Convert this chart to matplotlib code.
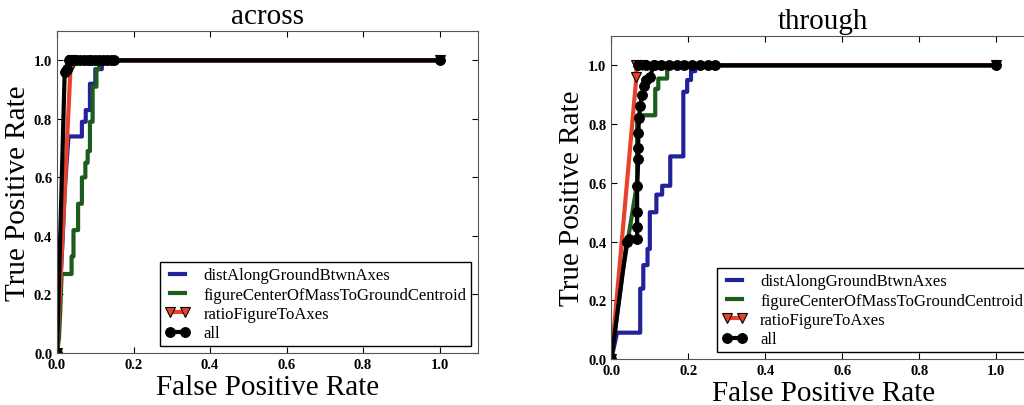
import matplotlib
matplotlib.use("Agg")
import matplotlib.pyplot as plt

plt.rcParams['font.family'] = ['Liberation Serif', 'DejaVu Serif']

titles = ['across', 'through']
labels = ['distAlongGroundBtwnAxes', 'figureCenterOfMassToGroundCentroid',
          'ratioFigureToAxes', 'all']

# across
across_dist_fpr = [0, 0.005, 0.01, 0.015, 0.02, 0.025, 0.03, 0.065, 0.065, 0.075, 0.075,
                   0.086, 0.086, 0.1, 0.1, 0.117, 0.117, 1.0]
across_dist_tpr = [0, 0.1, 0.27, 0.4, 0.55, 0.65, 0.74, 0.74, 0.79, 0.79, 0.83,
                   0.83, 0.92, 0.92, 0.97, 0.97, 1.0, 1.0]
across_fig_fpr = [0, 0.005, 0.008, 0.012, 0.038, 0.038, 0.043, 0.043, 0.055, 0.055, 0.065,
                  0.065, 0.074, 0.074, 0.08, 0.08, 0.086, 0.086, 0.093, 0.093, 0.103,
                  0.103, 0.11, 0.11, 1.0]
across_fig_tpr = [0, 0.05, 0.13, 0.27, 0.27, 0.33, 0.33, 0.42, 0.42, 0.51, 0.51,
                  0.6, 0.6, 0.65, 0.65, 0.69, 0.69, 0.79, 0.79, 0.91, 0.91,
                  0.97, 0.97, 1.0, 1.0]
across_ratio_fpr = [0, 0.035, 0.04, 1.0]
across_ratio_tpr = [0, 0.97, 1.0, 1.0]
across_all_fpr = [0, 0.02, 0.025, 0.03, 0.04, 0.05, 0.06, 0.07, 0.08, 0.09, 0.1,
                  0.11, 0.12, 0.13, 0.14, 0.15, 1.0]
across_all_tpr = [0, 0.96, 0.97, 1.0, 1.0, 1.0, 1.0, 1.0, 1.0, 1.0, 1.0,
                  1.0, 1.0, 1.0, 1.0, 1.0, 1.0]

# through
through_dist_fpr = [0, 0.015, 0.075, 0.075, 0.083, 0.083, 0.094, 0.094, 0.1, 0.1, 0.117,
                    0.117, 0.132, 0.132, 0.153, 0.153, 0.187, 0.187, 0.197, 0.197,
                    0.207, 0.207, 0.218, 0.218, 1.0]
through_dist_tpr = [0, 0.09, 0.09, 0.24, 0.24, 0.32, 0.32, 0.375, 0.375, 0.5, 0.5,
                    0.56, 0.56, 0.59, 0.59, 0.69, 0.69, 0.91, 0.91, 0.95,
                    0.95, 0.98, 0.98, 1.0, 1.0]
through_fig_fpr = [0, 0.03, 0.067, 0.067, 0.114, 0.114, 0.122, 0.122, 0.145, 0.145, 1.0]
through_fig_tpr = [0, 0.3, 0.6, 0.83, 0.83, 0.92, 0.92, 0.955, 0.955, 1.0, 1.0]
through_ratio_fpr = [0, 0.065, 0.065, 0.08, 1.0]
through_ratio_tpr = [0, 0.96, 1.0, 1.0, 1.0]
through_all_fpr = [0, 0.04, 0.045, 0.067, 0.067, 0.067, 0.067, 0.07, 0.07, 0.07, 0.072,
                   0.075, 0.08, 0.085, 0.09, 0.1, 0.11, 0.07, 0.09, 0.11, 0.13, 0.15,
                   0.17, 0.19, 0.21, 0.23, 0.25, 0.27, 1.0]
through_all_tpr = [0, 0.4, 0.41, 0.41, 0.45, 0.5, 0.59, 0.68, 0.72, 0.77, 0.82,
                   0.86, 0.9, 0.93, 0.95, 0.96, 1.0, 1.0, 1.0, 1.0, 1.0, 1.0,
                   1.0, 1.0, 1.0, 1.0, 1.0, 1.0, 1.0]

panels = [
    [(across_dist_fpr, across_dist_tpr), (across_fig_fpr, across_fig_tpr),
     (across_ratio_fpr, across_ratio_tpr), (across_all_fpr, across_all_tpr)],
    [(through_dist_fpr, through_dist_tpr), (through_fig_fpr, through_fig_tpr),
     (through_ratio_fpr, through_ratio_tpr), (through_all_fpr, through_all_tpr)],
]

colors = ['#22229a', '#1e5c1e', '#e8412c', 'black']
markers = [None, None, 'v', 'o']

fig = plt.figure(figsize=(10.24, 4.06), dpi=100)
positions = [[0.0557, 0.128, 0.411, 0.793], [0.597, 0.113, 0.4136, 0.796]]

for pos, title, curves in zip(positions, titles, panels):
    ax = fig.add_axes(pos)
    for (fpr, tpr), lab, c, m in zip(curves, labels, colors, markers):
        ax.plot(fpr, tpr, color=c, lw=3, marker=m, ms=7,
                markeredgecolor='black' if m else None, markeredgewidth=0.8,
                markerfacecolor=c, label=lab)
    ax.set_xlim(0, 1.1)
    ax.set_ylim(0, 1.1)
    ax.set_xticks([0, 0.2, 0.4, 0.6, 0.8, 1.0])
    ax.set_yticks([0, 0.2, 0.4, 0.6, 0.8, 1.0])
    ax.tick_params(direction='in', top=True, right=True, length=4, labelsize=10.5)
    for t in ax.get_xticklabels() + ax.get_yticklabels():
        t.set_fontweight('bold')
    for s in ax.spines.values():
        s.set_color('#555555')
    ax.set_title(title, fontsize=21)
    ax.set_xlabel('False Positive Rate', fontsize=21, labelpad=2)
    ax.set_ylabel('True Positive Rate', fontsize=21, labelpad=2)
    leg = ax.legend(loc='lower right', fontsize=12, numpoints=2, handlelength=1.5,
                    fancybox=False, framealpha=1, borderaxespad=0.4,
                    labelspacing=0.2, borderpad=0.3)
    leg.get_frame().set_edgecolor('black')

fig.savefig('out.png', dpi=100)
